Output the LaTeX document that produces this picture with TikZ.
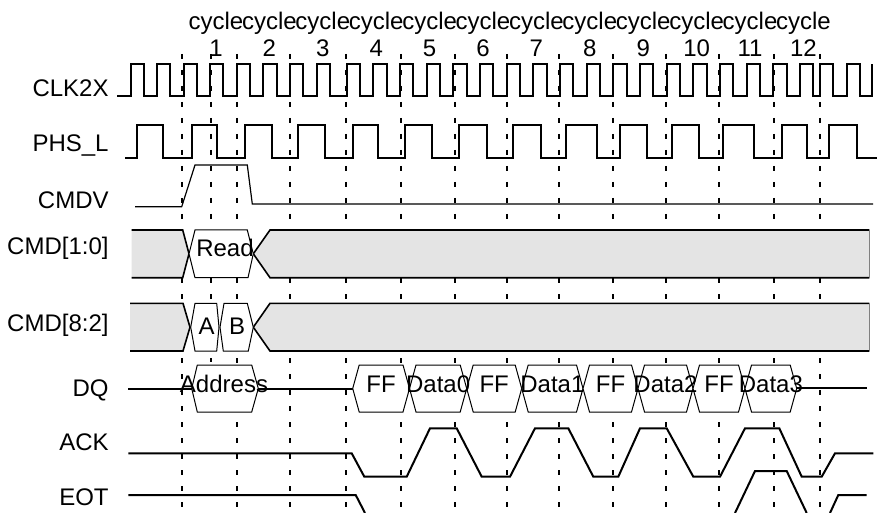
\documentclass[tikz,border=0pt]{standalone}
\usepackage{fontspec}
\setmainfont{Liberation Sans}
\usepackage{xcolor}
\usetikzlibrary{calc, positioning}
\definecolor{busgray}{RGB}{228,228,228}

\begin{document}
\begin{tikzpicture}[x=0.5pt, y=-0.5pt,
        wave/.style={line width=1pt},
        thinwave/.style={line width=0.6pt},
        guide/.style={line width=1pt, dash pattern=on 2.35pt off 5.65pt},
        bus/.style={fill=busgray, line width=0.8pt},
        hexbox/.style={fill=white, draw, line width=0.5pt}]
    \useasboundingbox (0,0) rectangle (877,513);
    \begin{scope}[every node/.style = {font=\fontsize{12}{13.35}\selectfont, inner sep=0pt}]
        % cycle marks
        \foreach \x in {182, 236.7, 290, 345.7, 400.7, 455, 506.7, 559, 612.7, 666, 718.7, 774, 820}{
            \draw[guide] (\x,54) -- (\x,513);
        }
        \draw[guide] (210.7,54) -- (210.7,362);
        \foreach \n in {1,...,12}{
            \node[anchor=base, align=center] (C\n) at ({216+53.4*(\n-1)},56.7) {cycle\\ \n};
        }
        % signal names
        \node[anchor=base east] (Lclk) at (109,96.7) {CLK2X};
        \node[anchor=base east] (Lphs) at (109,151.7) {PHS\_L};
        \node[anchor=base east] (Lcmdv) at (109,208.3) {CMDV};
        \node[anchor=base east] (Lcmdlo) at (109,255) {CMD[1:0]};
        \node[anchor=base east] (Lcmdhi) at (109,331.7) {CMD[8:2]};
        \node[anchor=base east] (Ldq) at (109,396.7) {DQ};
        \node[anchor=base east] (Lack) at (109,450) {ACK};
        \node[anchor=base east] (Leot) at (109,505) {EOT};
        % clocks
        \draw[wave] (117,96) \foreach \r in {130.7, 157, 184, 210, 236.7, 263.3, 290, 316.7, 346.7, 373.3, 400, 426.7, 453.3, 480, 506.7, 533.3, 560, 586.7, 613.3, 640, 666.7, 693.3, 720, 746.7, 773.3, 800, 820, 846.7}{
            -- (\r,96) -- (\r,64) -- ({\r+13.3},64) -- ({\r+13.3},96)} -- (871.7,96) -- (871.7,64);
        \draw[wave] (125,157.7) \foreach \r/\f in {136.7/163.3, 191.7/216.7, 245/271.7, 298.3/325, 353.3/378.3, 405/431.7, 459.3/486.7, 512.7/541, 565.7/596.7, 620/646.7, 671.7/699.3, 723.3/754, 781.7/806.7, 829.3/856.7}{
            -- (\r,157.7) -- (\r,125) -- (\f,125) -- (\f,157.7)} -- (877,157.7);
        % command valid
        \draw[thinwave] (135,206.7) -- (181.7,206.7) -- (195,165) -- (247.3,165) -- (252.3,204) -- (873,204);
        % CMD[1:0]
        \filldraw[bus] (131.7,230) -- (182.7,230) -- (189,253.8) -- (182.7,277.7) -- (131.7,277.7);
        \filldraw[bus] (869.3,230) -- (270,230) -- (253.3,253.8) -- (270,277.7) -- (869.3,277.7);
        \draw[gray, line width=0.4pt] (869.3,230) -- (869.3,277.7);
        \filldraw[hexbox] (189,253.8) -- (195,230) -- (247.3,230) -- (253.3,253.8) -- (248,277.7) -- (195,277.7) -- cycle;
        \node[anchor=base] (Tread) at (225,256.5) {Read};
        % CMD[8:2]
        \filldraw[bus] (130,303.3) -- (183,303.3) -- (190,327.2) -- (183,351) -- (130,351);
        \filldraw[bus] (869.3,303.3) -- (270,303.3) -- (253.3,327.2) -- (270,351) -- (869.3,351);
        \draw[gray, line width=0.4pt] (869.3,303.3) -- (869.3,351);
        \filldraw[hexbox] (190.7,327.2) -- (195,303.3) -- (216.7,303.3) -- (219,327.2) -- (216.7,351) -- (195,351) -- cycle;
        \filldraw[hexbox] (220,327.2) -- (224,303.3) -- (247.3,303.3) -- (253.3,327.2) -- (248.3,351) -- (223.3,351) -- cycle;
        \node[anchor=base] (Ta) at (206.7,334.5) {A};
        \node[anchor=base] (Tb) at (237,334.5) {B};
        % DQ
        \draw[thinwave] (128.3,389) -- (191.7,389);
        \draw[thinwave] (258.3,389) -- (352.7,389);
        \draw[thinwave] (796.7,388) -- (866.7,388);
        \filldraw[hexbox] (191.7,388.5) -- (197.3,365) -- (251.7,365) -- (258.3,388.5) -- (251.7,412) -- (197.3,412) -- cycle;
        \foreach \a/\b in {352.7/409.5, 409.5/466.7, 466.7/521.7, 521.7/583, 583/638, 638/693, 693/745, 745/796.7}{
            \filldraw[hexbox] (\a,388.5) -- ({\a+6.5},365) -- ({\b-6.5},365) -- (\b,388.5) -- ({\b-6.5},412) -- ({\a+6.5},412) -- cycle;
        }
        \node[anchor=base] (Taddr) at (224,392) {Address};
        \foreach \a/\b/\t [count=\i] in {352.7/409.5/FF, 409.5/466.7/Data0, 466.7/521.7/FF, 521.7/583/Data1, 583/638/FF, 638/693/Data2, 693/745/FF, 745/796.7/Data3}{
            \node[anchor=base] (D\i) at ({(\a+\b)/2},392.5) {\t};
        }
        % handshake
        \draw[wave] (128.3,453.3) -- (351.7,453.3) -- (364.3,476.7) -- (406.7,476.7) -- (430,428.3) -- (456.7,428.3) -- (481.7,476.7) -- (510,476.7) -- (535,428.3) -- (568.3,428.3) -- (593.3,476.7) -- (618.3,476.7) -- (640,428.3) -- (666.7,428.3) -- (693.3,476.7) -- (720,476.7) -- (745,428.3) -- (779.3,428.3) -- (801.7,476.7) -- (821.7,476.7) -- (835,453.3) -- (873.3,453.3);
        \draw[wave] (128.3,495) -- (355.7,495) -- (365,513);
        \draw[wave] (735,513) -- (755,471) -- (786.7,471) -- (806.7,513);
        \draw[wave] (830,513) -- (838.3,495) -- (866.7,495);
    \end{scope}
\end{tikzpicture}
\end{document}
